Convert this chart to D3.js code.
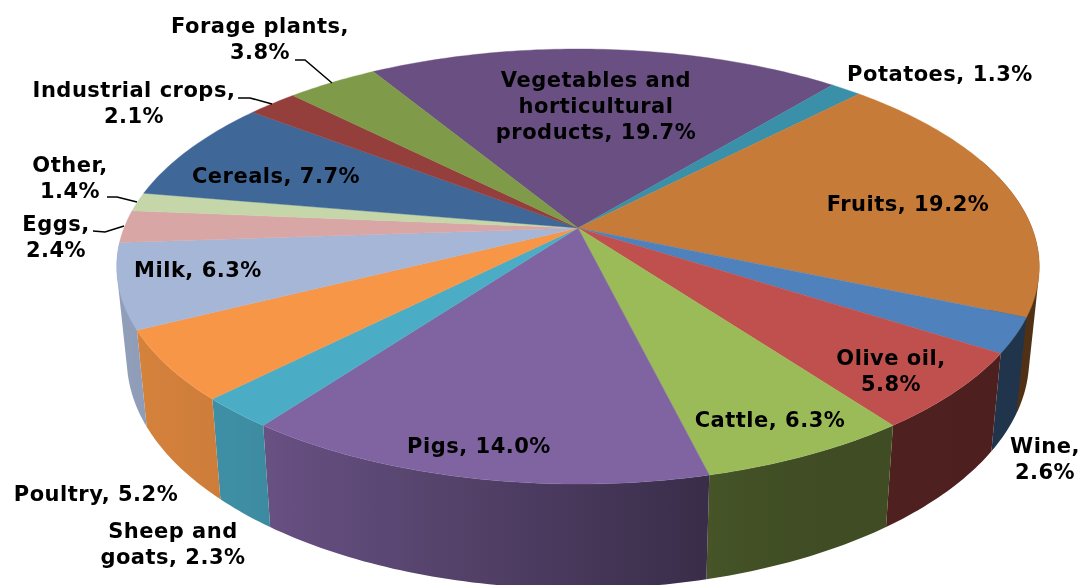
<!DOCTYPE html>
<html><head><meta charset="utf-8">
<script src="https://cdn.jsdelivr.net/npm/d3@7/dist/d3.min.js"></script>
<style>html,body{margin:0;padding:0;background:#fff}svg{display:block}</style></head>
<body><svg id="c" width="1083" height="585"></svg>
<script>
const categories=["Vegetables and horticultural products","Potatoes","Fruits","Wine","Olive oil","Cattle","Pigs","Sheep and goats","Poultry","Milk","Eggs","Other","Cereals","Industrial crops","Forage plants"];
const shares=[19.7,1.3,19.2,2.6,5.8,6.3,14.0,2.3,5.2,6.3,2.4,1.4,7.7,2.1,3.8];
const colours=["#6a5082","#3a90a8","#c77b38","#4f81bd","#c0504d","#9bbb59","#8064a2","#4bacc6","#f79646","#a6b6d6","#d9a6a6","#c5d6a9","#3f6899","#953f3d","#7f9a48"];
const labelLines=[["Vegetables and","horticultural","products, 19.7%"],["Potatoes, 1.3%"],["Fruits, 19.2%"],["Wine,","2.6%"],["Olive oil,","5.8%"],["Cattle, 6.3%"],["Pigs, 14.0%"],["Sheep and","goats, 2.3%"],["Poultry, 5.2%"],["Milk, 6.3%"],["Eggs,","2.4%"],["Other,","1.4%"],["Cereals, 7.7%"],["Industrial crops,","2.1%"],["Forage plants,","3.8%"]];
const labelPos=[[596,87],[940,81],[908,211],[1045,453],[891,365],[770,427],[479,453],[173,538],[96,501],[198,277],[56,231],[70,172],[276,183],[134,97],[260,33]];
const leaders=[null,null,null,null,null,null,null,null,null,null,[[93,231],[105,232],[124,226]],[[107,197],[117,197],[137,202]],null,[[238,98],[250,98],[272,104]],[[295,60],[305,60],[332,83]]];
const wallSlices=["Fruits","Wine","Olive oil","Cattle","Pigs","Sheep and goats","Poultry","Milk"];
const hullSlices=["Fruits","Milk"];

const upper={cx:578,cy:228,rx:454,ry:210.7,k:.177};
const lower={cx:578,cy:319,rx:444,ry:222,k:.177};
const project=(p,a)=>{const u=Math.sin(a),v=-Math.cos(a),w=1-p.k*v;return [p.cx+p.rx*u/w,p.cy+p.ry*v/w];};
const shadeStops=[120,250,400,705,800,1040];
const shadeValues=[.87,.82,.7,.45,.41,.4];
const shade=d3.scaleLinear().domain(shadeStops).range(shadeValues).clamp(true);

const svg=d3.select("#c");
const defs=svg.append("defs");
defs.append("filter").attr("id","soft").append("feGaussianBlur").attr("stdDeviation",.35);
const startDeg=-31.3;
const arcs=d3.pie().sort(null).value(d=>d).startAngle(startDeg*Math.PI/180).endAngle((startDeg+360)*Math.PI/180)(shares);
const steps=a=>{const n=Math.max(2,Math.ceil((a.endAngle-a.startAngle)/(Math.PI/200)));return d3.range(n+1).map(i=>a.startAngle+(a.endAngle-a.startAngle)*i/n);};
const line=d3.line();

// side wall, shaded by horizontal position
const wall=svg.append("g");
arcs.forEach((a,i)=>{
  if(!wallSlices.includes(categories[i])) return;
  const s=steps(a).filter(t=>Math.cos(t)<0.35);
  if(s.length<2) return;
  let ring=[...s.map(t=>project(upper,t)),...s.slice().reverse().map(t=>project(lower,t))];
  if(hullSlices.includes(categories[i])) ring=d3.polygonHull(ring);
  const [x0,x1]=d3.extent(ring,p=>p[0]);
  const grad=defs.append("linearGradient").attr("id","side"+i).attr("gradientUnits","userSpaceOnUse")
    .attr("x1",x0).attr("x2",x1).attr("y1",0).attr("y2",0);
  const base=d3.rgb(colours[i]);
  d3.range(9).forEach(j=>{const x=x0+(x1-x0)*j/8,f=shade(x);
    grad.append("stop").attr("offset",j/8).attr("stop-color",d3.rgb(base.r*f,base.g*f,base.b*f));});
  wall.append("path").attr("d",line(ring)+"Z").attr("fill",`url(#side${i})`);
});

// top face
svg.append("g").selectAll("path").data(arcs).join("path")
 .attr("d",a=>line([[upper.cx,upper.cy],...steps(a).map(t=>project(upper,t))])+"Z")
 .attr("fill",(a,i)=>colours[i]).attr("stroke",(a,i)=>colours[i]).attr("stroke-width",.4);

// leaders
svg.append("g").selectAll("path").data(leaders.filter(Boolean)).join("path")
 .attr("d",d=>line(d)).attr("fill","none").attr("stroke","#000").attr("stroke-width",1.5);

// labels
const LH=26;
svg.append("g").attr("font-family","'DejaVu Sans',Verdana,sans-serif").attr("font-weight","bold").attr("font-size",21).attr("letter-spacing",.5).attr("fill","#000").attr("text-anchor","middle").attr("filter","url(#soft)")
 .selectAll("text").data(labelLines).join("text")
 .each(function(lines,i){d3.select(this).selectAll("tspan").data(lines).join("tspan")
   .attr("x",labelPos[i][0]).attr("y",(l,j)=>labelPos[i][1]+j*LH).text(l=>l);});
</script></body></html>
